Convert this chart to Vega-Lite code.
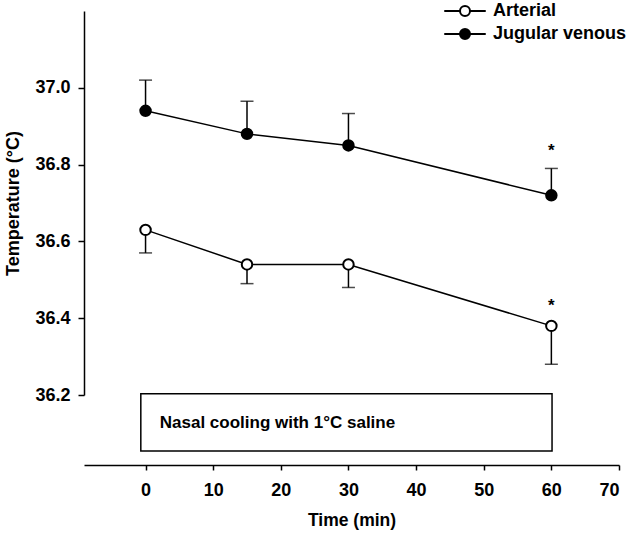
{
  "$schema": "https://vega.github.io/schema/vega-lite/v6.json",
  "width": 535,
  "height": 384,
  "autosize": "none",
  "padding": {"left": 84, "top": 11, "right": 11, "bottom": 140},
  "background": "white",
  "config": {
    "view": {"stroke": null},
    "font": "Liberation Sans",
    "axis": {
      "grid": false,
      "domainColor": "black",
      "tickColor": "black",
      "labelColor": "black",
      "titleColor": "black",
      "labelFont": "Liberation Sans",
      "titleFont": "Liberation Sans",
      "labelFontWeight": "bold",
      "titleFontWeight": "bold",
      "labelFontSize": 18,
      "titleFontSize": 18,
      "domainWidth": 1.5,
      "tickWidth": 1.5,
      "tickSize": 6
    }
  },
  "datasets": {
    "means": [
      {"series": "Arterial", "time": 0, "temp": 36.63, "end": 36.57},
      {"series": "Arterial", "time": 15, "temp": 36.54, "end": 36.49},
      {"series": "Arterial", "time": 30, "temp": 36.54, "end": 36.48},
      {"series": "Arterial", "time": 60, "temp": 36.38, "end": 36.28},
      {"series": "Jugular venous", "time": 0, "temp": 36.94, "end": 37.02},
      {"series": "Jugular venous", "time": 15, "temp": 36.88, "end": 36.965},
      {"series": "Jugular venous", "time": 30, "temp": 36.85, "end": 36.933},
      {"series": "Jugular venous", "time": 60, "temp": 36.72, "end": 36.79}
    ],
    "box": [
      {"x0": -0.7, "x1": 60.1, "y0": 36.203, "y1": 36.054, "label": "Nasal cooling with 1°C saline", "tx": 2.1, "ty": 36.128}
    ],
    "stars": [
      {"time": 60, "temp": 36.845, "label": "*"},
      {"time": 60, "temp": 36.442, "label": "*"}
    ]
  },
  "layer": [
    {
      "data": {"name": "box"},
      "mark": {"type": "rect", "fill": "white", "stroke": "black", "strokeWidth": 1.5},
      "encoding": {
        "x": {"field": "x0", "type": "quantitative", "title": "Time (min)",
              "scale": {"domain": [-9.1, 70], "nice": false, "zero": false},
              "axis": {"values": [0, 10, 20, 30, 40, 50, 60, 70], "offset": 70, "labelPadding": 11, "titlePadding": 12, "tickSize": 5, "titleFontSize": 17.5}},
        "x2": {"field": "x1"},
        "y": {"field": "y0", "type": "quantitative", "title": "Temperature (°C)",
              "scale": {"domain": [36.2, 37.2], "nice": false, "zero": false},
              "axis": {"values": [36.2, 36.4, 36.6, 36.8, 37.0], "format": ".1f", "labelPadding": 8, "titlePadding": 12}},
        "y2": {"field": "y1"}
      }
    },
    {
      "data": {"name": "box"},
      "mark": {"type": "text", "align": "left", "baseline": "middle", "font": "Liberation Sans", "fontWeight": "bold", "fontSize": 17, "color": "black"},
      "encoding": {
        "x": {"field": "tx", "type": "quantitative", "title": "Time (min)", "scale": {"domain": [-9.1, 70], "nice": false, "zero": false}},
        "y": {"field": "ty", "type": "quantitative", "title": "Temperature (°C)", "scale": {"domain": [36.2, 37.2], "nice": false, "zero": false}},
        "text": {"field": "label"}
      }
    },
    {
      "data": {"name": "means"},
      "mark": {"type": "line", "color": "black", "strokeWidth": 1.5},
      "encoding": {
        "x": {"field": "time", "type": "quantitative", "title": "Time (min)", "scale": {"domain": [-9.1, 70], "nice": false, "zero": false}},
        "y": {"field": "temp", "type": "quantitative", "title": "Temperature (°C)", "scale": {"domain": [36.2, 37.2], "nice": false, "zero": false}},
        "detail": {"field": "series"}
      }
    },
    {
      "data": {"name": "means"},
      "mark": {"type": "rule", "color": "black", "strokeWidth": 1.5},
      "encoding": {
        "x": {"field": "time", "type": "quantitative", "title": "Time (min)", "scale": {"domain": [-9.1, 70], "nice": false, "zero": false}},
        "y": {"field": "temp", "type": "quantitative", "title": "Temperature (°C)", "scale": {"domain": [36.2, 37.2], "nice": false, "zero": false}},
        "y2": {"field": "end"}
      }
    },
    {
      "data": {"name": "means"},
      "mark": {"type": "tick", "orient": "horizontal", "color": "black", "size": 13, "thickness": 1.5},
      "encoding": {
        "x": {"field": "time", "type": "quantitative", "title": "Time (min)", "scale": {"domain": [-9.1, 70], "nice": false, "zero": false}},
        "y": {"field": "end", "type": "quantitative", "title": "Temperature (°C)", "scale": {"domain": [36.2, 37.2], "nice": false, "zero": false}}
      }
    },
    {
      "data": {"name": "means"},
      "mark": {"type": "point", "filled": true, "size": 110, "stroke": "black", "strokeWidth": 2, "opacity": 1},
      "encoding": {
        "x": {"field": "time", "type": "quantitative", "title": "Time (min)", "scale": {"domain": [-9.1, 70], "nice": false, "zero": false}},
        "y": {"field": "temp", "type": "quantitative", "title": "Temperature (°C)", "scale": {"domain": [36.2, 37.2], "nice": false, "zero": false}},
        "fill": {"field": "series", "type": "nominal",
                 "scale": {"domain": ["Arterial", "Jugular venous"], "range": ["white", "black"]},
                 "legend": {"title": null, "orient": "none", "legendX": 372, "legendY": -9,
                            "symbolType": "M-4.15,0H-1M1,0H4.15M1,0A1,1,0,1,1,-1,0A1,1,0,1,1,1,0Z",
                            "symbolSize": 100, "symbolStrokeColor": "black", "symbolStrokeWidth": 2, "symbolOpacity": 1,
                            "labelFont": "Liberation Sans", "labelFontWeight": "bold", "labelFontSize": 18, "labelColor": "black",
                            "labelOffset": 19, "rowPadding": 5, "padding": 0}}
      }
    },
    {
      "data": {"name": "stars"},
      "mark": {"type": "text", "align": "center", "baseline": "middle", "font": "Liberation Sans", "fontWeight": "bold", "fontSize": 17, "color": "black", "dy": 4},
      "encoding": {
        "x": {"field": "time", "type": "quantitative", "title": "Time (min)", "scale": {"domain": [-9.1, 70], "nice": false, "zero": false}},
        "y": {"field": "temp", "type": "quantitative", "title": "Temperature (°C)", "scale": {"domain": [36.2, 37.2], "nice": false, "zero": false}},
        "text": {"field": "label"}
      }
    }
  ]
}
